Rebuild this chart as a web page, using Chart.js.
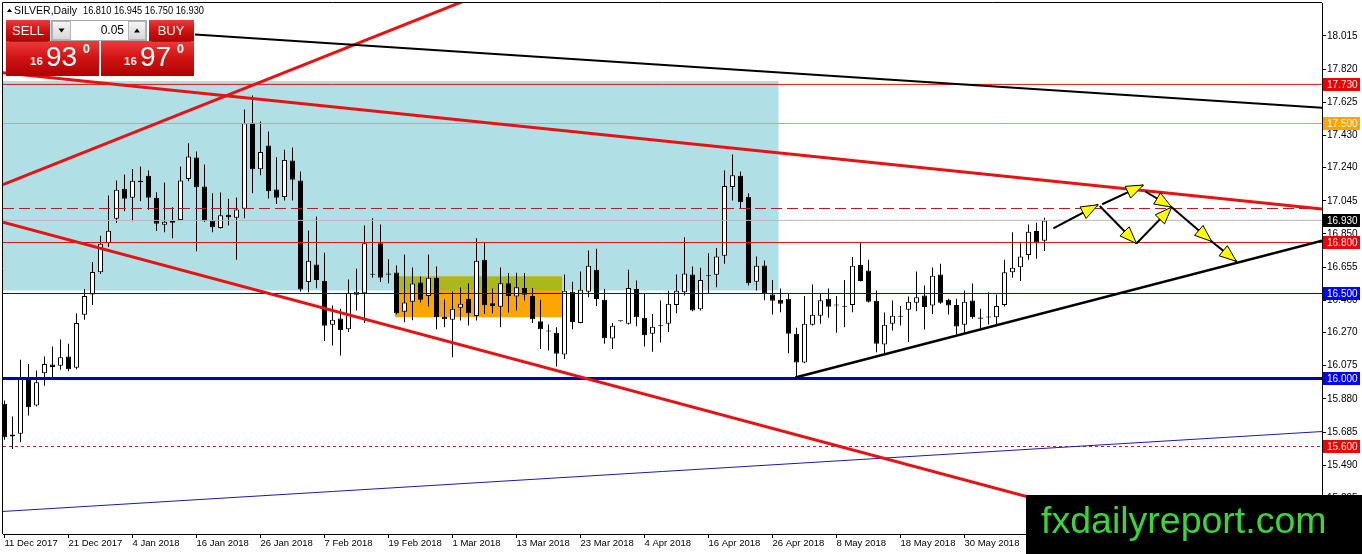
<!DOCTYPE html>
<html>
<head>
<meta charset="utf-8">
<script src="https://cdn.jsdelivr.net/npm/chart.js@4.4.1/dist/chart.umd.min.js"></script>
<style>
html, body { margin: 0; padding: 0; background: #fff; overflow: hidden; }
#wrap { width: 1362px; height: 554px; }
</style>
</head>
<body>
<div id="wrap"><canvas id="chart" width="1362" height="554"></canvas></div>
<script>
// daily bars, bar 0 = 11 Dec 2017
const opens = [15.851,15.659,15.675,16.008,15.841,16.031,16.082,16.075,16.129,16.063,
  16.375,16.494,16.625,16.796,16.939,17.116,17.063,17.163,17.192,17.063,
  16.904,16.916,16.933,17.173,17.300,17.129,16.929,16.886,16.963,16.945,
  16.998,17.504,17.231,17.371,17.112,17.067,17.282,17.165,16.567,16.671,
  16.575,16.316,16.353,16.290,16.492,16.502,16.615,16.796,16.618,16.624,
  16.392,16.451,16.565,16.486,16.592,16.363,16.345,16.416,16.469,16.367,
  16.698,16.443,16.422,16.561,16.482,16.533,16.486,16.337,16.280,16.269,
  16.141,16.510,16.327,16.510,16.639,16.463,16.235,16.337,16.322,16.527,
  16.357,16.263,16.308,16.322,16.433,16.508,16.612,16.408,16.602,16.610,
  16.722,17.127,17.192,17.069,16.569,16.665,16.494,16.463,16.469,16.263,
  16.094,16.316,16.369,16.469,16.429,16.425,16.433,16.667,16.635,16.457,
  16.200,16.322,16.363,16.404,16.445,16.488,16.429,16.612,16.463,16.433,
  16.316,16.459,16.359,16.359,16.361,16.433,16.625,16.655,16.727,16.867,
  16.810];
const highs = [15.870,15.776,16.110,16.086,16.047,16.129,16.188,16.229,16.204,16.384,
  16.527,16.686,16.839,17.076,17.165,17.200,17.233,17.247,17.224,17.096,
  17.153,17.008,17.247,17.384,17.335,17.259,17.090,17.094,17.057,17.065,
  17.582,17.665,17.512,17.453,17.302,17.345,17.359,17.218,16.871,16.953,
  16.739,16.429,16.410,16.582,16.645,16.900,16.943,16.906,16.702,16.665,
  16.729,16.653,16.600,16.729,16.659,16.465,16.512,16.535,16.561,16.825,
  16.798,16.529,16.653,16.620,16.622,16.620,16.533,16.463,16.318,16.302,
  16.612,16.569,16.629,16.753,16.763,16.527,16.327,16.339,16.639,16.576,
  16.498,16.380,16.459,16.516,16.612,16.831,16.659,16.651,16.737,16.767,
  17.224,17.318,17.218,17.090,16.718,16.694,16.580,16.529,16.500,16.298,
  16.486,16.553,16.500,16.529,16.486,16.580,16.714,16.798,16.698,16.518,
  16.388,16.459,16.427,16.482,16.629,16.547,16.653,16.675,16.469,16.469,
  16.518,16.559,16.410,16.508,16.494,16.698,16.861,16.796,16.906,16.916,
  16.945];
const lows = [15.640,15.586,15.625,15.782,15.835,15.957,16.004,16.051,16.043,16.055,
  16.345,16.433,16.614,16.773,16.914,16.984,16.925,17.043,16.992,16.867,
  16.861,16.825,16.929,17.161,16.749,16.922,16.861,16.882,16.900,16.698,
  16.943,17.090,17.196,17.059,17.027,17.047,17.047,16.512,16.508,16.531,
  16.220,16.194,16.135,16.273,16.400,16.327,16.592,16.567,16.561,16.376,
  16.331,16.343,16.447,16.424,16.290,16.302,16.125,16.341,16.312,16.341,
  16.380,16.384,16.302,16.388,16.400,16.459,16.327,16.173,16.165,16.071,
  16.114,16.290,16.325,16.478,16.427,16.204,16.173,16.335,16.318,16.308,
  16.188,16.157,16.212,16.273,16.384,16.488,16.396,16.400,16.498,16.537,
  16.675,17.047,16.998,16.547,16.518,16.461,16.376,16.390,16.149,16.008,
  16.090,16.312,16.322,16.357,16.269,16.302,16.390,16.571,16.447,16.155,
  16.145,16.282,16.312,16.214,16.396,16.288,16.380,16.439,16.376,16.259,
  16.267,16.351,16.288,16.318,16.312,16.424,16.592,16.573,16.698,16.704,
  16.750];
const closes = [15.655,15.671,15.998,15.831,15.978,16.086,16.067,16.125,16.055,16.327,
  16.486,16.627,16.792,16.869,17.110,17.057,17.163,17.155,17.063,16.910,
  16.922,16.927,17.165,17.306,17.125,16.925,16.890,16.961,16.949,16.994,
  17.502,17.231,17.333,17.102,17.063,17.286,17.169,16.524,16.692,16.580,
  16.310,16.345,16.286,16.504,16.510,16.796,16.610,16.592,16.610,16.384,
  16.447,16.559,16.463,16.592,16.361,16.349,16.410,16.439,16.384,16.692,
  16.431,16.427,16.561,16.486,16.537,16.492,16.349,16.290,16.276,16.145,
  16.516,16.333,16.522,16.663,16.467,16.237,16.310,16.337,16.533,16.361,
  16.255,16.304,16.310,16.439,16.516,16.618,16.400,16.580,16.606,16.718,
  17.133,17.196,17.037,16.561,16.663,16.502,16.457,16.439,16.263,16.094,
  16.322,16.375,16.461,16.422,16.433,16.422,16.663,16.573,16.451,16.204,
  16.316,16.369,16.367,16.451,16.478,16.420,16.604,16.445,16.429,16.306,
  16.451,16.361,16.351,16.363,16.427,16.625,16.651,16.718,16.863,16.800,
  16.930];

const askPrice = 16.970;

// time axis labels and the bar each one sits on
const xTickLabels = ['11 Dec 2017','21 Dec 2017','4 Jan 2018','16 Jan 2018','26 Jan 2018','7 Feb 2018',
  '19 Feb 2018','1 Mar 2018','13 Mar 2018','23 Mar 2018','4 Apr 2018','16 Apr 2018',
  '26 Apr 2018','8 May 2018','18 May 2018','30 May 2018'];
const xTickBars = [0,8,16,24,32,40,48,56,64,72,80,88,96,104,112,120];

// price axis
const yTicks = [18.015,17.820,17.625,17.430,17.240,17.045,16.850,16.655,16.460,16.270,16.075,15.880,15.685,15.490,15.295];

// horizontal levels
const levelPrices = [17.73, 17.5, 17.0, 16.93, 16.8, 16.5, 16.0, 15.6];

// trend lines: [bar, price] end points
const trendBlack   = [[23.81, 18.024], [164.69, 17.592]];
const trendRedUp   = [[-0.19, 17.141], [58.0, 18.231]];
const trendRedHigh = [[-0.19, 17.799], [164.69, 16.997]];
const trendRedLow  = [[-0.19, 16.919], [164.69, 14.840]];
const trendBlueLow = [[-0.19, 15.218], [164.69, 15.688]];
const trendSupport = [[98.85, 16.006], [164.69, 16.810]];

// projected path arrows
const arrowPaths = [
  [[131.1, 16.883], [136.7, 17.022]],
  [[137.2, 17.025], [142.35, 17.138]],
  [[142.6, 17.100], [145.9, 17.008]],
  [[136.9, 17.015], [141.5, 16.794]],
  [[141.5, 16.794], [145.9, 17.008]],
  [[145.9, 17.008], [150.9, 16.806]],
  [[150.9, 16.806], [154.0, 16.689]]
];

// zones: bar range and price range
const zoneBlue   = [-1, 96.78, 16.518, 17.75];
const zoneOrange = [48.81, 69.72, 16.361, 16.6];

// look of each level, same order as levelPrices
const levelLook = [
  {color: '#e81010', width: 1, dash: [], box: '#f00000'},
  {color: '#ffa500', width: 1, dash: [], box: '#ffa500'},
  {color: '#c01818', width: 1, dash: [11, 5], box: null},
  {color: '#b8b8b8', width: 1, dash: [], box: '#000000'},
  {color: '#e81010', width: 1, dash: [], box: '#f00000'},
  {color: '#0000e0', width: 1, dash: [], box: '#0000ff'},
  {color: '#0000b4', width: 3, dash: [], box: '#0000ff'},
  {color: '#e81010', width: 1, dash: [3, 3], box: '#f00000'}
];

// half a pixel shift keeps the 1px levels sharp
const X_MIN = -0.1875, X_MAX = 164.6875;
const Y_MIN = 15.0853, Y_MAX = 18.2088;
const FONT = '"Liberation Sans", Arial, sans-serif';

const barIdx = opens.map((o, i) => i);

function seg(points, color, width, dash, order) {
  return {
    type: 'line',
    data: points.map(p => ({x: p[0], y: p[1]})),
    borderColor: color, borderWidth: width, borderDash: dash || [],
    pointRadius: 0, fill: false, tension: 0, order: order
  };
}

function zone(z, color, order) {
  return {
    type: 'line',
    data: [{x: z[0], y: z[3]}, {x: z[1], y: z[3]}],
    borderWidth: 0, pointRadius: 0,
    backgroundColor: color,
    fill: {value: z[2]},
    order: order
  };
}

const datasets = [];
datasets.push(zone(zoneBlue, '#b0e0e6', 30));
datasets.push(zone(zoneOrange, '#ffa500', 29));
// where the two zones overlap
datasets.push(zone([zoneOrange[0], zoneOrange[1], Math.max(zoneOrange[2], zoneBlue[2]), Math.min(zoneOrange[3], zoneBlue[3])], '#aab81e', 28));

datasets.push({
  type: 'bar',
  data: barIdx.map(i => ({x: i, y: [lows[i], highs[i]]})),
  backgroundColor: '#000', borderWidth: 0,
  maxBarThickness: 1, grouped: false, order: 10
});
datasets.push({
  type: 'bar',
  data: barIdx.map(i => ({x: i, y: [opens[i], closes[i]]})),
  backgroundColor: barIdx.map(i => closes[i] >= opens[i] ? '#ffffff' : '#000000'),
  borderColor: '#000', borderWidth: 1, borderSkipped: false,
  maxBarThickness: 5, minBarLength: 1, grouped: false, order: 9
});

levelPrices.forEach((p, k) => {
  const lk = levelLook[k];
  datasets.push(seg([[X_MIN, p], [X_MAX, p]], lk.color, lk.width, lk.dash, 5));
});

datasets.push(seg(trendBlueLow, '#1a1aa8', 1, [], 4));
datasets.push(seg(trendBlack, '#000', 2, [], 3));
datasets.push(seg(trendRedUp, '#e81212', 3, [], 3));
datasets.push(seg(trendRedHigh, '#e81212', 3, [], 3));
datasets.push(seg(trendRedLow, '#e81212', 3, [], 3));
datasets.push(seg(trendSupport, '#000', 2.5, [], 3));
arrowPaths.forEach(a => datasets.push(seg(a, '#000', 2, [], 1)));

function arrowHead(ctx, x1, y1, x2, y2) {
  const dx = x2 - x1, dy = y2 - y1, len = Math.hypot(dx, dy);
  const ux = dx / len, uy = dy / len;
  const L = 17, W = 6.5;
  const bx = x2 - ux * L, by = y2 - uy * L;
  ctx.beginPath();
  ctx.moveTo(x2, y2);
  ctx.lineTo(bx - uy * W, by + ux * W);
  ctx.lineTo(bx + uy * W, by - ux * W);
  ctx.closePath();
  ctx.fillStyle = '#ffff00';
  ctx.fill();
  ctx.strokeStyle = '#000';
  ctx.lineWidth = 1;
  ctx.stroke();
}

function redGrad(ctx, y0, y1) {
  const g = ctx.createLinearGradient(0, y0, 0, y1);
  g.addColorStop(0, '#ea3c3c');
  g.addColorStop(0.45, '#d41515');
  g.addColorStop(1, '#ad0303');
  return g;
}

function tri(ctx, cx, cy, up) {
  ctx.beginPath();
  if (up) { ctx.moveTo(cx - 3, cy + 2); ctx.lineTo(cx + 3, cy + 2); ctx.lineTo(cx, cy - 2); }
  else { ctx.moveTo(cx - 3, cy - 2); ctx.lineTo(cx + 3, cy - 2); ctx.lineTo(cx, cy + 2); }
  ctx.closePath();
  ctx.fillStyle = '#000';
  ctx.fill();
}

const overlay = {
  id: 'overlay',
  afterDatasetsDraw(chart) {
    const ctx = chart.ctx, xs = chart.scales.x, ys = chart.scales.y;
    ctx.save();
    arrowPaths.forEach(a => {
      arrowHead(ctx, xs.getPixelForValue(a[0][0]), ys.getPixelForValue(a[0][1]),
        xs.getPixelForValue(a[1][0]), ys.getPixelForValue(a[1][1]));
    });
    ctx.restore();
  },
  afterDraw(chart) {
    const ctx = chart.ctx, ys = chart.scales.y, area = chart.chartArea;
    ctx.save();
    // frame left / top
    ctx.strokeStyle = '#000';
    ctx.lineWidth = 1;
    ctx.beginPath();
    ctx.moveTo(area.left - 0.5, area.bottom);
    ctx.lineTo(area.left - 0.5, area.top - 0.5);
    ctx.lineTo(area.right, area.top - 0.5);
    ctx.stroke();

    // level price boxes on the axis
    ctx.font = '10px ' + FONT;
    ctx.textBaseline = 'middle';
    ctx.textAlign = 'left';
    levelPrices.forEach((p, k) => {
      const lk = levelLook[k];
      if (!lk.box) return;
      const y = Math.floor(ys.getPixelForValue(p));
      ctx.fillStyle = lk.box;
      ctx.fillRect(area.right + 1, y - 6, 37, 13);
      ctx.fillStyle = '#fff';
      ctx.fillText(p.toFixed(3), area.right + 5, y + 1, 31);
    });

    // header
    const last = closes.length - 1;
    ctx.fillStyle = '#000';
    ctx.beginPath();
    ctx.moveTo(7, 12); ctx.lineTo(12, 12); ctx.lineTo(9.5, 8.5); ctx.closePath();
    ctx.fill();
    ctx.font = '11px ' + FONT;
    ctx.fillText('SILVER,Daily', 14, 11, 63);
    ctx.fillText([opens[last], highs[last], lows[last], closes[last]].map(v => v.toFixed(3)).join(' '), 83, 11, 121);

    // one click trading panel
    ctx.fillStyle = redGrad(ctx, 20, 41);
    ctx.fillRect(6, 20, 44, 21);
    ctx.fillRect(149, 20, 45, 21);
    ctx.fillStyle = redGrad(ctx, 41, 76);
    ctx.fillRect(6, 41, 93, 35);
    ctx.fillRect(101, 41, 93, 35);
    ctx.strokeStyle = 'rgba(110,0,0,0.55)';
    ctx.beginPath();
    ctx.moveTo(9, 41.5); ctx.lineTo(48, 41.5);
    ctx.moveTo(152, 41.5); ctx.lineTo(191, 41.5);
    ctx.stroke();

    ctx.fillStyle = '#fff';
    ctx.font = '13px ' + FONT;
    ctx.textAlign = 'center';
    ctx.fillText('SELL', 28, 31);
    ctx.fillText('BUY', 171, 31);

    // lot box
    ctx.fillStyle = '#fff';
    ctx.fillRect(51, 20, 96, 21);
    ctx.strokeStyle = '#a8a8a8';
    ctx.strokeRect(51.5, 20.5, 95, 20);
    [[52, 19], [128, 18]].forEach(b => {
      const g = ctx.createLinearGradient(0, 21, 0, 40);
      g.addColorStop(0, '#f6f6f6'); g.addColorStop(1, '#d6d6d6');
      ctx.fillStyle = g;
      ctx.fillRect(b[0], 21, b[1], 19);
      ctx.strokeStyle = '#b4b4b4';
      ctx.strokeRect(b[0] + 0.5, 21.5, b[1] - 1, 18);
    });
    tri(ctx, 61.5, 30.5, false);
    tri(ctx, 137, 30.5, true);
    ctx.fillStyle = '#000';
    ctx.textAlign = 'right';
    ctx.font = '12px ' + FONT;
    ctx.fillText('0.05', 124, 31);

    // bid / ask
    ctx.textAlign = 'left';
    ctx.textBaseline = 'alphabetic';
    ctx.fillStyle = '#fff';
    [[closes[last], 30], [askPrice, 124]].forEach(q => {
      const s = q[0].toFixed(3);
      const x = q[1];
      ctx.font = 'bold 11.5px ' + FONT;
      ctx.fillText(s.slice(0, 2), x, 65);
      ctx.font = '28px ' + FONT;
      ctx.fillText(s.slice(3, 5), x + 16, 65.5);
      ctx.font = 'bold 12.5px ' + FONT;
      ctx.fillText(s.slice(5), x + 53, 53);
    });

    // watermark
    ctx.fillStyle = '#000';
    ctx.fillRect(1026, 495, 336, 59);
    ctx.fillStyle = '#3bd53b';
    ctx.font = '37.5px ' + FONT;
    ctx.fillText('fxdailyreport.com', 1041, 533);
    ctx.restore();
  }
};

new Chart(document.getElementById('chart'), {
  type: 'bar',
  data: {datasets: datasets},
  options: {
    responsive: false,
    animation: false,
    devicePixelRatio: 1,
    events: [],
    layout: {padding: {left: 3, top: 3, right: 0, bottom: 0}},
    plugins: {legend: {display: false}, tooltip: {enabled: false}},
    scales: {
      x: {
        type: 'linear', min: X_MIN, max: X_MAX, offset: false,
        grid: {drawOnChartArea: false, offset: false, tickLength: 4, color: '#000'},
        border: {display: true, color: '#000', width: 1},
        afterBuildTicks: s => { s.ticks = xTickBars.map(v => ({value: v})); },
        afterFit: s => { s.height = 20; s.paddingLeft = 0; s.paddingRight = 0; },
        ticks: {
          autoSkip: false, maxRotation: 0, align: 'start', padding: 0,
          color: '#000', font: {family: FONT, size: 9.5},
          callback: (v, i) => xTickLabels[i]
        }
      },
      y: {
        type: 'linear', position: 'right', min: Y_MIN, max: Y_MAX,
        grid: {drawOnChartArea: false, tickLength: 4, color: '#000'},
        border: {display: true, color: '#000', width: 1},
        afterBuildTicks: s => { s.ticks = yTicks.map(v => ({value: v})); },
        afterFit: s => { s.width = 40; s.paddingTop = 0; s.paddingBottom = 0; },
        ticks: {
          autoSkip: false, padding: 1, color: '#000',
          font: {family: FONT, size: 10},
          callback: v => v.toFixed(3)
        }
      }
    }
  },
  plugins: [overlay]
});
</script>
</body>
</html>
